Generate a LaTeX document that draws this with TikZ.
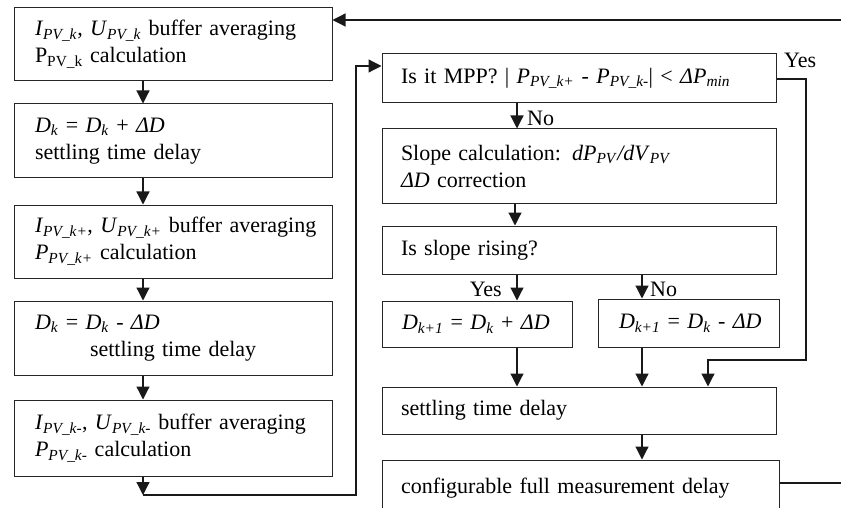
\documentclass[tikz,border=0pt]{standalone}
\usepackage{fontspec}
\setmainfont{Liberation Serif}
\usetikzlibrary{arrows.meta}
\newcommand\vi[2]{\textit{#1}\textsubscript{\textit{#2}}}
\newcommand\ml[1]{\mbox{#1}}
\tikzset{
  bx/.style={draw=black!85, line width=1pt, rectangle, inner ysep=0pt, align=left,
     font=\fontsize{22}{27}\selectfont, text=black},
  lbox/.style={bx, minimum width=318pt, text width=276pt, inner xsep=21pt},
  rbox/.style={bx, minimum width=394pt, text width=356pt, inner xsep=19pt},
  arr/.style={draw=black!90, line width=1.2pt, -{Triangle[width=13pt,length=13pt]}},
  ln/.style={draw=black!90, line width=1.2pt},
  lbl/.style={font=\fontsize{22}{27}\selectfont, inner sep=0pt}
}
\begin{document}
\begin{tikzpicture}[x=1pt,y=-1pt]
\clip (0,0) rectangle (841,508);
\fill[white] (0,0) rectangle (841,508);
% left column
\node[lbox, minimum height=73pt] (b1) at (173,44.5) {\ml{\vi{I}{PV\_k}, \vi{U}{PV\_k} buffer averaging}\\\ml{P\textsubscript{PV\_k} calculation}};
\node[lbox, minimum height=74pt] (b2) at (173,141) {\ml{\vi{D}{k} = \vi{D}{k} + \textit{ΔD}}\\\ml{settling time delay}};
\node[lbox, minimum height=73pt] (b3) at (173,241.5) {\ml{\vi{I}{PV\_k+}, \vi{U}{PV\_k+} buffer averaging}\\\ml{\vi{P}{PV\_k+} calculation}};
\node[lbox, minimum height=74pt] (b4) at (173,338) {\ml{\vi{D}{k} = \vi{D}{k} - \textit{ΔD}}\\\hspace*{55pt}\ml{settling time delay}};
\node[lbox, minimum height=76pt] (b5) at (173,438) {\ml{\vi{I}{PV\_k-}, \vi{U}{PV\_k-} buffer averaging}\\\ml{\vi{P}{PV\_k-} calculation}};
% right column
\node[rbox, minimum height=49pt] (m1) at (579,78.5) {\ml{Is it MPP? | \vi{P}{PV\_k+} - \vi{P}{PV\_k-}| < \textit{ΔP}\textsubscript{\textit{min}}}};
\node[rbox, minimum height=74pt] (m2) at (579,166) {\ml{Slope calculation: \textit{dP}\textsubscript{\textit{PV}}\textit{/dV}\textsubscript{\textit{PV}}}\\\ml{\textit{ΔD} correction}};
\node[rbox, minimum height=48pt] (m3) at (579,250) {\ml{Is slope rising?}};
\node[bx, minimum width=190pt, text width=150pt, inner xsep=20pt, minimum height=46pt] (d1) at (477,324) {\ml{\vi{D}{k+1} = \vi{D}{k} + \textit{ΔD}}};
\node[bx, minimum width=181pt, text width=139pt, inner xsep=21pt, minimum height=48pt] (d2) at (688.5,323) {\ml{\vi{D}{k+1} = \vi{D}{k} - \textit{ΔD}}};
\node[rbox, minimum height=47pt] (s1) at (579,410.5) {\ml{settling time delay}};
\node[bx, minimum width=397pt, text width=359pt, inner xsep=19pt, minimum height=78pt] (c1) at (580.5,499) {\ml{configurable full measurement delay}\\\rule{0pt}{0pt}};
% coordinates
\coordinate (xl) at (143,0);
\coordinate (xa) at (517,0);
\coordinate (xb) at (515,0);
\coordinate (xc) at (642,0);
\coordinate (rin) at (841,20);
\coordinate (rout) at (841,483);
\coordinate (lb) at (143,495);
\coordinate (lu) at (356,66);
\coordinate (yr) at (806,79);
\coordinate (yd) at (708,360);
% left arrows
\draw[arr] (b1.south -| xl) -- (b2.north -| xl);
\draw[arr] (b2.south -| xl) -- (b3.north -| xl);
\draw[arr] (b3.south -| xl) -- (b4.north -| xl);
\draw[arr] (b4.south -| xl) -- (b5.north -| xl);
\draw[arr] (b5.south -| xl) -- (lb);
\draw[arr] (lb) -| (lu) -- (lu -| m1.west);
\draw[arr] (rin) -- (rin -| b1.east);
% right arrows
\draw[arr] (m1.south -| xa) -- (m2.north -| xa);
\draw[arr] (m2.south -| xb) -- (m3.north -| xb);
\draw[arr] (m3.south -| xa) -- (d1.north -| xa);
\draw[arr] (m3.south -| xc) -- (d2.north -| xc);
\draw[arr] (d1.south -| xa) -- (s1.north -| xa);
\draw[arr] (d2.south -| xc) -- (s1.north -| xc);
\draw[arr] (m1.east |- yr) -- (yr) |- (yd) -- (yd |- s1.north);
\draw[arr] (s1.south -| xc) -- (c1.north -| xc);
\draw[ln] (c1.east |- rout) -- (rout);
% labels
\node[lbl, anchor=west] (lno1) at (527,118) {No};
\node[lbl, anchor=west] (lyes1) at (784,60) {Yes};
\node[lbl, anchor=east] (lyes2) at (502,289) {Yes};
\node[lbl, anchor=west] (lno2) at (650,289) {No};
\end{tikzpicture}
\end{document}
